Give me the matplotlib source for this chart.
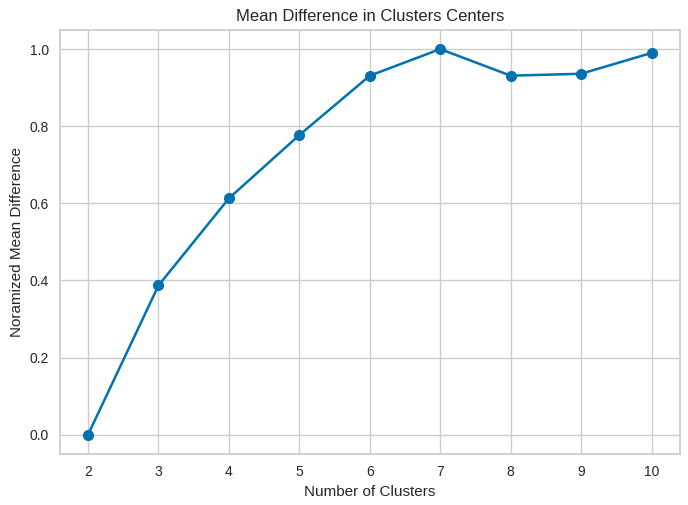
import matplotlib
matplotlib.use('Agg')
import matplotlib.pyplot as plt

n_clusters = [2, 3, 4, 5, 6, 7, 8, 9, 10]
mean_diff = [0.0, 0.387, 0.613, 0.777, 0.931, 1.0, 0.931, 0.936, 0.990]

plt.rcParams['font.family'] = ['Liberation Sans', 'DejaVu Sans']
plt.rcParams['text.color'] = '#262626'
plt.rcParams['axes.labelcolor'] = '#262626'
plt.rcParams['xtick.color'] = '#262626'
plt.rcParams['ytick.color'] = '#262626'

fig = plt.figure(figsize=(6.88, 5.05), dpi=100)
ax = fig.add_axes([0.087, 0.101, 0.901, 0.840])

ax.plot(n_clusters, mean_diff, marker='o', color='#0072B2', linewidth=1.8, markersize=7)

ax.set_title('Mean Difference in Clusters Centers', fontsize=12)
ax.set_xlabel('Number of Clusters', fontsize=11)
ax.set_ylabel('Noramized Mean Difference', fontsize=11)
ax.set_xticks(n_clusters)

ax.grid(True, color='#cccccc', linewidth=1)
ax.set_axisbelow(True)
for s in ax.spines.values():
    s.set_color('#cccccc')
    s.set_linewidth(1.25)
ax.tick_params(length=0, labelsize=10, pad=8)
ax.set_facecolor('white')

fig.savefig('out.png', dpi=100)
